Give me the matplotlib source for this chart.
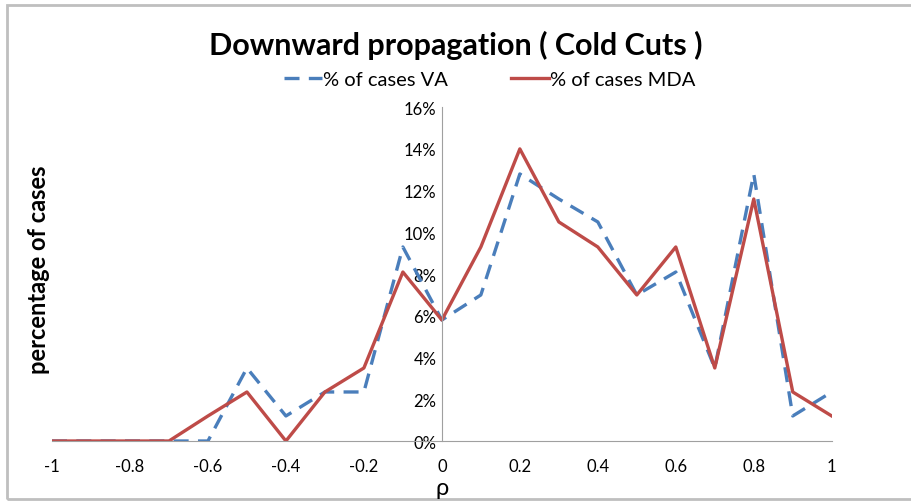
import numpy as np
import matplotlib
matplotlib.use('Agg')
import matplotlib.pyplot as plt
from matplotlib.patches import Rectangle

rho = [-1, -0.9, -0.8, -0.7, -0.6, -0.5, -0.4, -0.3, -0.2, -0.1, 0,
       0.1, 0.2, 0.3, 0.4, 0.5, 0.6, 0.7, 0.8, 0.9, 1]
va = [0, 0, 0, 0, 0, 3.5, 1.2, 2.35, 2.35, 9.3, 5.8,
      7.0, 12.8, 11.6, 10.5, 7.0, 8.1, 3.5, 12.8, 1.2, 2.35]
mda = [0, 0, 0, 0, 1.2, 2.35, 0, 2.35, 3.5, 8.1, 5.8,
       9.3, 14.0, 10.5, 9.3, 7.0, 9.3, 3.5, 11.6, 2.35, 1.2]
yticks = [0, 2, 4, 6, 8, 10, 12, 14, 16]
xticks = [-1, -0.8, -0.6, -0.4, -0.2, 0, 0.2, 0.4, 0.6, 0.8, 1]

plt.rcParams['font.family'] = ['Lato', 'DejaVu Sans']

fig = plt.figure(figsize=(9.12, 5.02), dpi=100)
ax = fig.add_axes([0.057, 0.1195, 0.855, 0.665])

# outer chart frame
fig.patches.append(Rectangle((7 / 912, 2 / 502), 1.0, 494 / 502,
                             transform=fig.transFigure, fill=False,
                             edgecolor='#bfbfbf', linewidth=2))

ax.plot(rho, va, color='#4a7ebb', linewidth=2.4, dashes=(4.5, 2.8),
        label='% of cases VA')
ax.plot(rho, mda, color='#be4b48', linewidth=2.4, label='% of cases MDA')

ax.set_xlim(-1, 1)
ax.set_ylim(0, 16)
ax.set_xticks(xticks)
ax.set_xticklabels([('%g' % t) for t in xticks])
ax.set_yticks(yticks)
ax.set_yticklabels(['%d%%' % t for t in yticks])

for s in ['top', 'right']:
    ax.spines[s].set_visible(False)
ax.spines['left'].set_position(('data', 0))
ax.spines['left'].set_color('#a0a0a0')
ax.spines['bottom'].set_color('#a0a0a0')
ax.tick_params(length=0, labelsize=12)
ax.tick_params(axis='x', pad=12)
ax.tick_params(axis='y', pad=4)

fig.text(442 / 912, 0.026, 'ρ', ha='center', va='center', fontsize=17)
fig.text(0.042, 0.462, 'percentage of cases', rotation=90, ha='center',
         va='center', fontsize=17, fontweight='bold')

fig.text(0.5, 0.91, 'Downward propagation ( Cold Cuts )', ha='center',
         va='center', fontsize=22, fontweight='bold')
fig.legend(loc='center', bbox_to_anchor=(0.537, 0.84), ncol=2, frameon=False,
           fontsize=14.5, handlelength=1.9, handletextpad=0.05,
           columnspacing=3.1)

plt.savefig('out.png', dpi=100)
